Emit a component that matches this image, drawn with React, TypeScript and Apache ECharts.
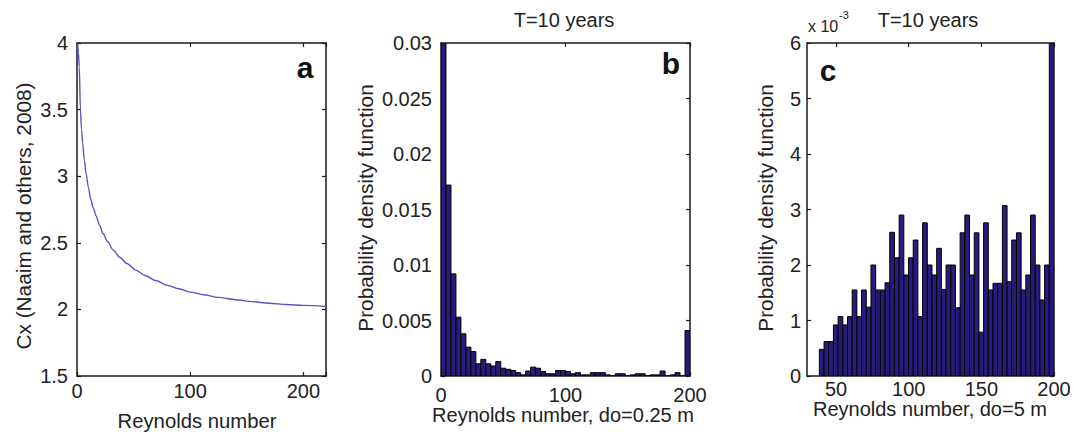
import React, { useEffect, useRef } from "react";
import * as echarts from "echarts";

// Panel a: drag coefficient curve
const reA = [0.6, 1.2, 2, 3, 4, 5, 6.5, 8, 10, 12, 14.5, 17, 20, 23, 27, 32, 38, 44, 52, 60, 70, 80, 90, 100, 112, 125, 140, 155, 170, 185, 200, 220];
const cxA = [4.0, 3.93, 3.82, 3.5, 3.35, 3.25, 3.12, 3.02, 2.92, 2.83, 2.76, 2.7, 2.63, 2.57, 2.51, 2.445, 2.39, 2.345, 2.295, 2.255, 2.215, 2.18, 2.155, 2.13, 2.11, 2.09, 2.073, 2.058, 2.046, 2.037, 2.03, 2.022];
const xTicksA = [0, 100, 200];

// Panel b: histogram, do = 0.25 m (bin left edges start at bStart, width bWidth)
const bStart = 0;
const bWidth = 4;
const pdfB = [
  0.03, 0.0172, 0.0092, 0.0053, 0.0038, 0.0026, 0.0022, 0.0011, 0.0015, 0.0011,
  0.0009, 0.0013, 0.0007, 0.0006, 0.0005, 0.0003, 0.0001, 0.00045, 0.0008, 0.0007,
  0.0004, 0.0002, 0.0002, 0.0005, 0.0005, 0.0004, 0.0002, 0.0003, 0.0001, 0.0001,
  0.0003, 0.0003, 0.0003, 0.0001, 0.0, 0.0002, 0.0002, 0.0, 0.0001, 0.0002,
  0.0002, 0.0, 0.0001, 0.0001, 0.00045, 0.0, 0.0001, 0.0003, 0.0, 0.0041,
];

// Panel c: histogram, do = 5 m (values in units of 1e-3)
const cStart = 38.5;
const cWidth = 3.23;
const pdfC = [
  0.48, 0.62, 0.62, 0.92, 1.07, 0.92, 1.07, 1.55, 1.07, 1.55,
  1.24, 2.0, 1.55, 1.55, 1.68, 2.59, 2.13, 2.9, 1.82, 2.13,
  2.45, 1.07, 2.76, 2.0, 1.82, 2.3, 1.56, 2.0, 2.0, 1.23,
  2.58, 2.9, 1.82, 2.58, 0.79, 2.76, 1.55, 1.67, 1.67, 3.07,
  1.7, 2.45, 2.58, 1.55, 1.82, 2.9, 2.0, 1.37, 2.0, 6.0,
];
const xTicksC = [50, 100, 150, 200];

const FONT = "'Liberation Sans', Arial, sans-serif";
const INK = "#1a1a1a";
const TXT = "#222";
const BAR = "#271c7c";
const LINE = "#5656c8";
const TICK_FS = 20;

function histData(start: number, width: number, vals: number[]) {
  return vals.map((v, i) => [start + i * width, start + (i + 1) * width, v]);
}

const renderBar = (params: any, api: any) => {
  const x0 = api.value(0);
  const x1 = api.value(1);
  const v = api.value(2);
  const p0 = api.coord([x0, v]);
  const p1 = api.coord([x1, 0]);
  return {
    type: "rect",
    shape: { x: p0[0], y: p0[1], width: p1[0] - p0[0], height: p1[1] - p0[1] },
    style: { fill: BAR, stroke: "#000", lineWidth: 1 },
  };
};

function axis(extra: any, labels: boolean, labelMargin = 8) {
  return {
    type: "value",
    splitLine: { show: false },
    axisLine: { show: true, onZero: false, lineStyle: { color: INK, width: 1.5 } },
    axisTick: { show: true, inside: true, length: 4, lineStyle: { color: INK, width: 1.2 } },
    axisLabel: {
      show: labels,
      color: TXT,
      fontSize: TICK_FS,
      fontFamily: FONT,
      margin: labelMargin,
    },
    ...extra,
  };
}

function mergeDeep(base: any, extra: any) {
  const out: any = { ...base };
  for (const k of Object.keys(extra)) {
    if (extra[k] && typeof extra[k] === "object" && !Array.isArray(extra[k]) && base[k] && typeof base[k] === "object") {
      out[k] = { ...base[k], ...extra[k] };
    } else out[k] = extra[k];
  }
  return out;
}

function mk(gridIndex: number, position: string, labels: boolean, margin: number, extra: any) {
  return mergeDeep(axis({ gridIndex, position }, labels, margin), extra);
}

const fmtB = (v: number) => (v === 0 ? "0" : String(+v.toFixed(3)));

function txt(x: number, y: number, text: string, fontSize: number, extra: any = {}, rotation = 0) {
  return {
    type: "text",
    x,
    y,
    rotation,
    style: {
      text,
      fontSize,
      fontFamily: FONT,
      fill: TXT,
      textAlign: "center",
      textVerticalAlign: "middle",
      ...extra,
    },
  };
}

export default function App() {
  const ref = useRef<HTMLDivElement>(null);
  useEffect(() => {
    if (!ref.current) return;
    const chart = echarts.init(ref.current, undefined, { renderer: "svg" });
    const grids = [
      { left: 77, top: 43, width: 249, height: 333 },
      { left: 441, top: 43, width: 249, height: 333 },
      { left: 807, top: 43, width: 247, height: 333 },
    ];
    const xA = { min: 0, max: 220, interval: 100 };
    const xB = { min: 0, max: 200, interval: 100 };
    const xC = {
      min: 30,
      max: 200,
      axisTick: { customValues: xTicksC },
      axisLabel: { customValues: xTicksC },
    };
    const yA = { min: 1.5, max: 4, interval: 0.5 };
    const yB = { min: 0, max: 0.03, interval: 0.005 };
    const yC = { min: 0, max: 6, interval: 1 };

    const option: any = {
      animation: false,
      backgroundColor: "#fff",
      grid: grids.map((g) => ({ ...g, containLabel: false })),
      xAxis: [
        mk(0, "bottom", true, 5, { ...xA, axisLabel: { formatter: (v: number) => (xTicksA.includes(v) ? String(v) : "") } }),
        mk(0, "top", false, 8, { ...xA }),
        mk(1, "bottom", true, 9, { ...xB }),
        mk(1, "top", false, 8, { ...xB }),
        mk(2, "bottom", true, 3, { ...xC }),
        mk(2, "top", false, 8, { ...xC }),
      ],
      yAxis: [
        mk(0, "left", true, 9, { ...yA }),
        mk(0, "right", false, 8, { ...yA }),
        mk(1, "left", true, 9, { ...yB, axisLabel: { formatter: fmtB } }),
        mk(1, "right", false, 8, { ...yB }),
        mk(2, "left", true, 6, { ...yC }),
        mk(2, "right", false, 8, { ...yC }),
      ],
      series: [
        {
          type: "line",
          xAxisIndex: 0,
          yAxisIndex: 0,
          data: reA.map((r, i) => [r, cxA[i]]),
          showSymbol: false,
          smooth: 0.3,
          smoothMonotone: "x",
          clip: true,
          lineStyle: { color: LINE, width: 1.4 },
        },
        {
          type: "custom",
          xAxisIndex: 2,
          yAxisIndex: 2,
          data: histData(bStart, bWidth, pdfB),
          encode: { x: [0, 1], y: 2 },
          renderItem: renderBar,
          clip: true,
        },
        {
          type: "custom",
          xAxisIndex: 4,
          yAxisIndex: 4,
          data: histData(cStart, cWidth, pdfC),
          encode: { x: [0, 1], y: 2 },
          renderItem: renderBar,
          clip: true,
        },
      ],
      graphic: [
        txt(564, 20, "T=10 years", 20),
        txt(928, 20, "T=10 years", 20),
        txt(808, 26, "x 10", 16, { textAlign: "left" }),
        txt(839, 15, "-3", 11, { textAlign: "left" }),
        txt(305, 67, "a", 30, { fontWeight: "bold", fill: "#111" }),
        txt(671, 63, "b", 30, { fontWeight: "bold", fill: "#111" }),
        txt(828, 70, "c", 30, { fontWeight: "bold", fill: "#111" }),
        txt(197, 421, "Reynolds number", 20.3),
        txt(563, 415, "Reynolds number, do=0.25 m", 20),
        txt(930, 409, "Reynolds number, do=5 m", 20),
        txt(23, 216, "Cx (Naaim and others, 2008)", 20.8, {}, Math.PI / 2),
        txt(365, 208, "Probability density function", 20.8, {}, Math.PI / 2),
        txt(765, 208, "Probability density function", 20.8, {}, Math.PI / 2),
      ],
    };
    chart.setOption(option);
    return () => chart.dispose();
  }, []);
  return (
    <div
      ref={ref}
      style={{ position: "absolute", left: 0, top: 0, width: 1075, height: 436, background: "#fff" }}
    />
  );
}
